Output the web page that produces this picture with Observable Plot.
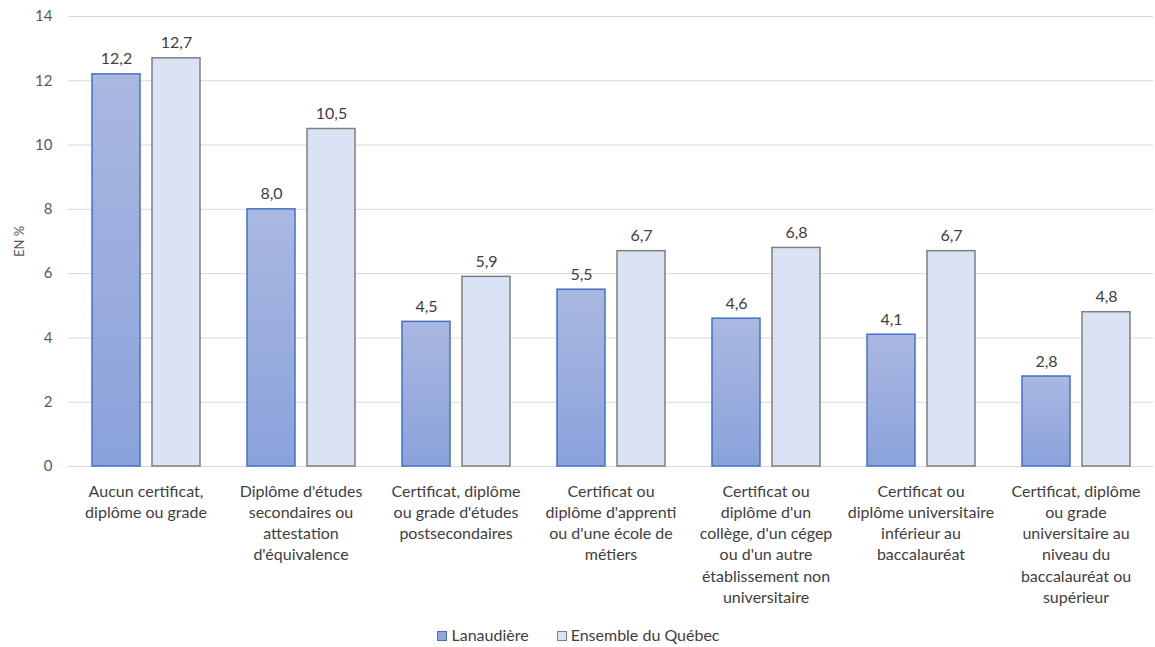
<!DOCTYPE html>
<html>
<head>
<meta charset="utf-8">
<script src="https://cdn.jsdelivr.net/npm/d3@7"></script>
<script src="https://cdn.jsdelivr.net/npm/@observablehq/plot@0.6"></script>
<style>
  body { margin: 0; background: #fff; font-family: Lato, "Open Sans", sans-serif; }
  #legend { display: flex; justify-content: center; align-items: center; height: 25px; font-size: 16px; color: #404040; gap: 28px; padding-left: 2px; }
  #legend span.sw { display: inline-block; width: 8px; height: 8px; margin-right: 4px; vertical-align: middle; position: relative; top: -1px; }
</style>
</head>
<body>
<div id="chart"></div>
<div id="legend"></div>
<script>
const categories = [
  "Aucun certificat,\ndiplôme ou grade",
  "Diplôme d'études\nsecondaires ou\nattestation\nd'équivalence",
  "Certificat, diplôme\nou grade d'études\npostsecondaires",
  "Certificat ou\ndiplôme d'apprenti\nou d'une école de\nmétiers",
  "Certificat ou\ndiplôme d'un\ncollège, d'un cégep\nou d'un autre\nétablissement non\nuniversitaire",
  "Certificat ou\ndiplôme universitaire\ninférieur au\nbaccalauréat",
  "Certificat, diplôme\nou grade\nuniversitaire au\nniveau du\nbaccalauréat ou\nsupérieur"
];
const series = ["Lanaudière", "Ensemble du Québec"];
const lanaudiere = [12.2, 8.0, 4.5, 5.5, 4.6, 4.1, 2.8];
const quebec = [12.7, 10.5, 5.9, 6.7, 6.8, 6.7, 4.8];
const yTicks = [0, 2, 4, 6, 8, 10, 12, 14];
const yLabel = "EN %";

const data = categories.flatMap((c, i) => [
  {cat: c, serie: series[0], v: lanaudiere[i]},
  {cat: c, serie: series[1], v: quebec[i]}
]);
const fmt = v => d3.format(".1f")(v).replace(".", ",");

const defs = () => {
  const g = d3.create("svg:defs");
  const lg = g.append("linearGradient").attr("id", "gradL").attr("x1", 0).attr("y1", 0).attr("x2", 0).attr("y2", 1);
  lg.append("stop").attr("offset", "0%").attr("stop-color", "#aab8e1");
  lg.append("stop").attr("offset", "100%").attr("stop-color", "#8aa2db");
  return g.node();
};

const chart = Plot.plot({
  width: 1155,
  height: 622,
  marginLeft: 68,
  marginRight: 2,
  marginTop: 16,
  marginBottom: 156,
  style: {fontFamily: "Lato, 'Open Sans', sans-serif", fontSize: "16px", color: "#404040", background: "#fff"},
  fx: {domain: categories, padding: 0, label: null},
  x: {domain: series, paddingInner: 0.2, paddingOuter: 0.39, axis: null},
  y: {domain: [0, 14], label: null},
  marks: [
    defs,
    Plot.gridY(yTicks, {stroke: "#d9d9d9", strokeOpacity: 1, strokeWidth: 1}),
    Plot.axisY(yTicks, {tickSize: 0, tickPadding: 16, fontSize: 15, label: yLabel, labelAnchor: "center", labelOffset: 54, labelArrow: "none", fill: "#595959"}),
    Plot.axisFx({anchor: "bottom", tickSize: 0, tickPadding: 15, lineHeight: 1.33, label: null, fill: "#404040"}),
    Plot.barY(data.filter(d => d.serie === series[0]), {fx: "cat", x: "serie", y: "v", fill: "url(#gradL)", stroke: "#4472c4", strokeWidth: 1.5}),
    Plot.barY(data.filter(d => d.serie === series[1]), {fx: "cat", x: "serie", y: "v", fill: "#dae3f3", stroke: "#7f7f7f", strokeWidth: 1.5}),
    Plot.text(data, {fx: "cat", x: "serie", y: "v", text: d => fmt(d.v), dy: -10, lineAnchor: "bottom", fill: "#404040"})
  ]
});
d3.select(chart).selectAll("[aria-label='y-axis label'] text").style("font-size", "13px").style("fill", "#595959");
document.getElementById("chart").appendChild(chart);

const legend = document.getElementById("legend");
const styles = [
  {bg: "#8ea6dc", border: "#4472c4"},
  {bg: "#dae3f3", border: "#7f7f7f"}
];
series.forEach((s, i) => {
  const item = document.createElement("div");
  const sw = document.createElement("span");
  sw.className = "sw";
  sw.style.background = styles[i].bg;
  sw.style.border = "1px solid " + styles[i].border;
  item.appendChild(sw);
  item.appendChild(document.createTextNode(s));
  legend.appendChild(item);
});
</script>
</body>
</html>
